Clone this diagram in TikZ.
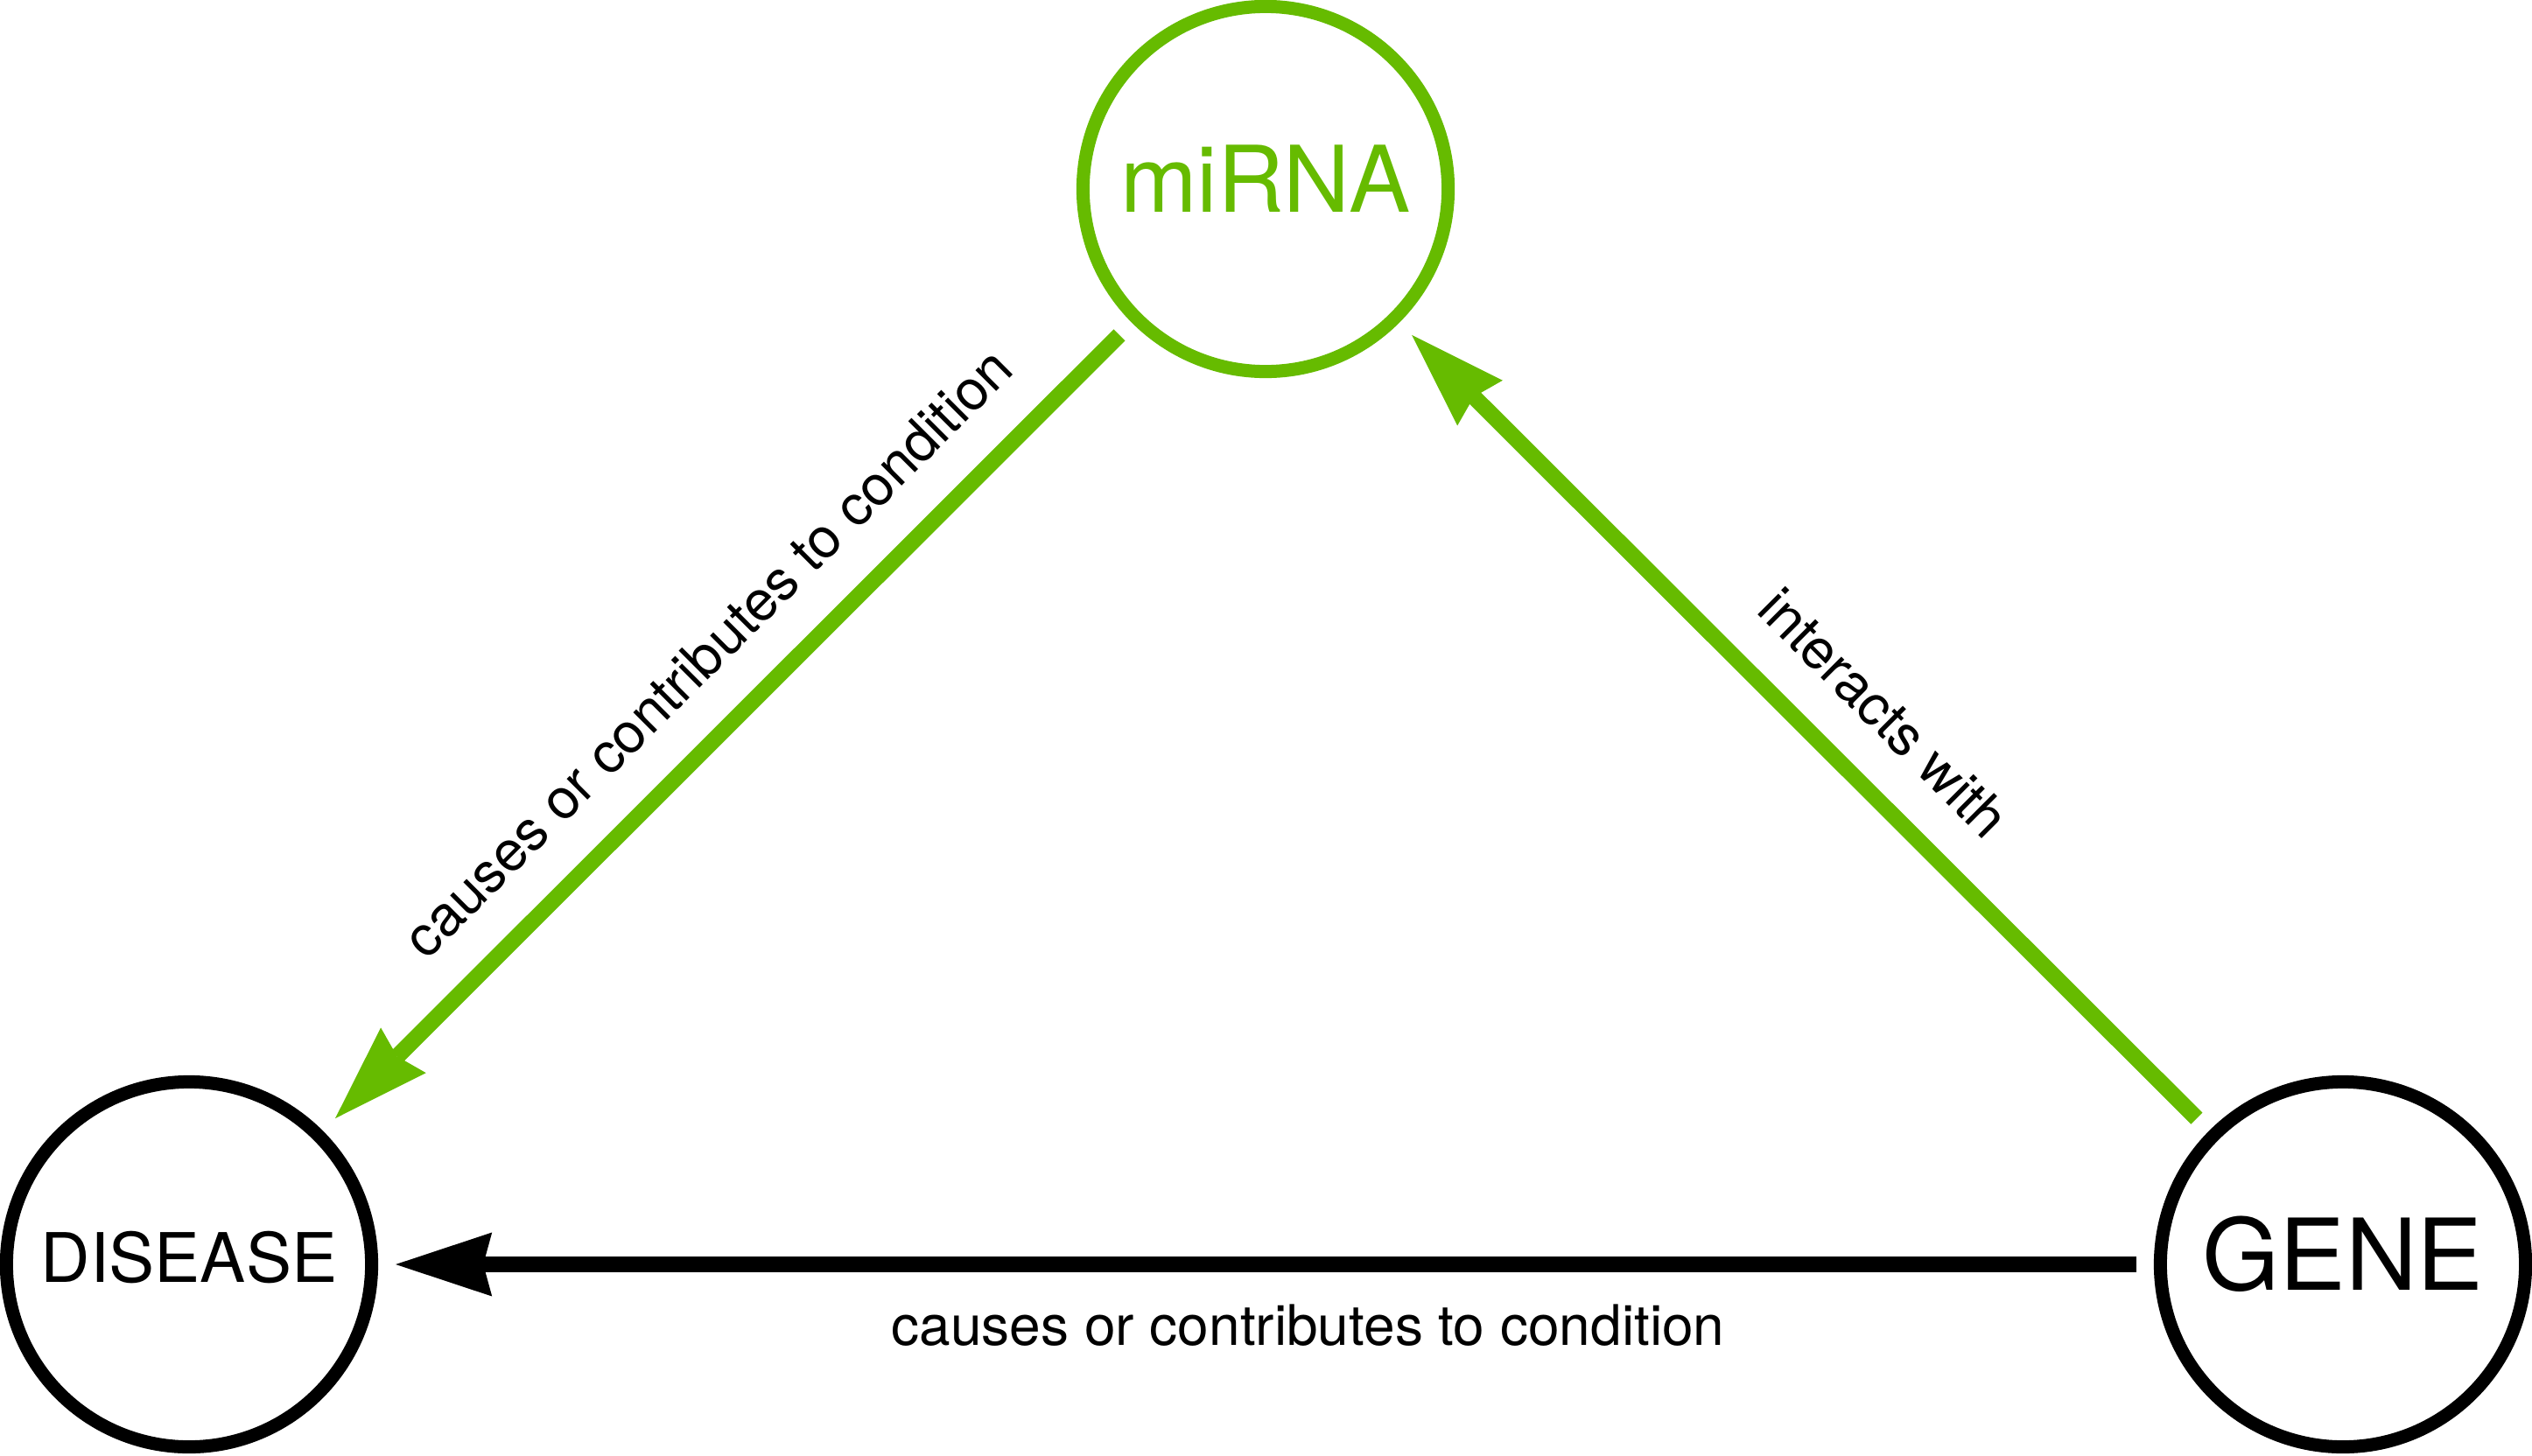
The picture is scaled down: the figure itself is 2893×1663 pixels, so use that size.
\documentclass[tikz,border=0pt]{standalone}
\usepackage{fontspec}
\setmainfont{TeX Gyre Heros}
\usetikzlibrary{arrows.meta}
\definecolor{mgreen}{HTML}{66BB00}
\begin{document}
\begin{tikzpicture}[x=0.01cm,y=-0.01cm,
  ent/.style={circle, draw, line width=0.15cm, minimum size=4.17cm, inner sep=0pt},
  conn/.style={line width=0.185cm, -{Stealth[length=1.1cm,width=0.73cm,inset=0.1cm,line width=0pt]}, shorten <=0.2cm, shorten >=0.2cm},
  lbl/.style={font=\fontsize{18.2pt}{22pt}\selectfont, inner sep=0pt, anchor=base}]
\useasboundingbox (0,0) rectangle (2893,1663);
\node[ent, draw=black, font=\fontsize{22.2pt}{26pt}\selectfont] (disease) at (216,1445) {DISEASE\vphantom{g}};
\node[ent, draw=mgreen, text=mgreen, font=\fontsize{29.9pt}{36pt}\selectfont] (mirna) at (1446,216) {miRNA\vphantom{g}};
\node[ent, draw=black, font=\fontsize{32.2pt}{38pt}\selectfont] (gene) at (2677,1445) {GENE\vphantom{g}};
\draw[conn, mgreen] (mirna) -- (disease);
\draw[conn, mgreen] (gene) -- (mirna);
\draw[conn, black] (gene) -- (disease);
\node[lbl, rotate=45] (l1) at (824,762) {causes or contributes to condition};
\node[lbl, rotate=-45] (l2) at (2136.5,830.5) {interacts with};
\node[lbl] (l3) at (1494.5,1537) {causes or contributes to condition};
\end{tikzpicture}
\end{document}
